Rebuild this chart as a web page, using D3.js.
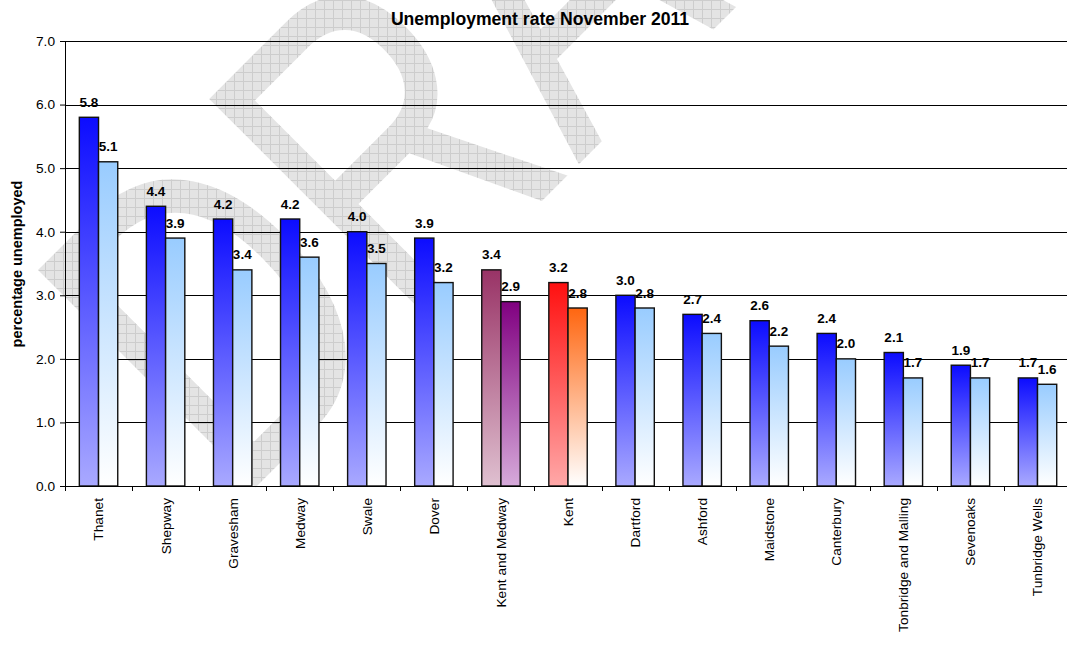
<!DOCTYPE html>
<html>
<head>
<meta charset="utf-8">
<script src="https://cdn.jsdelivr.net/npm/d3@7"></script>
<style>
  html, body { margin: 0; padding: 0; background: #fff; }
  svg { display: block; font-family: "Liberation Sans", Arial, sans-serif; }
</style>
</head>
<body>
<svg id="chart" width="1067" height="645"></svg>
<script>
// Unemployment rate by district, November 2011
const categories = ["Thanet", "Shepway", "Gravesham", "Medway", "Swale", "Dover",
  "Kent and Medway", "Kent", "Dartford", "Ashford", "Maidstone", "Canterbury",
  "Tonbridge and Malling", "Sevenoaks", "Tunbridge Wells"];
const seriesA = [5.8, 4.4, 4.2, 4.2, 4.0, 3.9, 3.4, 3.2, 3.0, 2.7, 2.6, 2.4, 2.1, 1.9, 1.7];
const seriesB = [5.1, 3.9, 3.4, 3.6, 3.5, 3.2, 2.9, 2.8, 2.8, 2.4, 2.2, 2.0, 1.7, 1.7, 1.6];
const yTicks = [0, 1, 2, 3, 4, 5, 6, 7];

const title = "Unemployment rate November 2011";
const yTitle = "percentage unemployed";

// gradient pairs [top, bottom] per palette, first and second bar
const palettes = {
  district: [["#0c0cff", "#a9a9ff"], ["#99ccff", "#ffffff"]],
  "Kent and Medway": [["#993366", "#dfc0d0"], ["#800080", "#d6aada"]],
  "Kent": [["#ff1010", "#ffa8a8"], ["#ff6610", "#ffffff"]]
};

const W = 1067, H = 645;
const plot = { left: 65, top: 41, bottom: 486, right: 1067 };
const step = 67.07;

const svg = d3.select("#chart");
const defs = svg.append("defs");

// grid-textured fill for the background stamp
const pat = defs.append("pattern")
  .attr("id", "stampGrid").attr("patternUnits", "userSpaceOnUse")
  .attr("width", 9).attr("height", 9);
pat.append("rect").attr("width", 9).attr("height", 9).attr("fill", "#e4e4e4");
pat.append("path").attr("d", "M0 0.5H9M0.5 0V9")
  .attr("stroke", "#cdcdcd").attr("stroke-width", 1).attr("fill", "none");

const clip = defs.append("clipPath").attr("id", "stampClip");
clip.append("text")
  .attr("transform", "translate(236,507) rotate(-45) scale(0.75,1)")
  .attr("font-family", "'Liberation Sans', Arial, sans-serif")
  .attr("font-size", 447)
  .text("DRAFT");

svg.append("rect")
  .attr("x", 0).attr("y", 0).attr("width", W).attr("height", H)
  .attr("fill", "url(#stampGrid)")
  .attr("clip-path", "url(#stampClip)");

// gradients
Object.entries(palettes).forEach(([key, pair], pi) => {
  pair.forEach((cols, si) => {
    const g = defs.append("linearGradient")
      .attr("id", `grad-${pi}-${si}`)
      .attr("x1", 0).attr("y1", 0).attr("x2", 0).attr("y2", 1);
    g.append("stop").attr("offset", "0%").attr("stop-color", cols[0]);
    g.append("stop").attr("offset", "100%").attr("stop-color", cols[1]);
  });
});
const paletteKeys = Object.keys(palettes);
function gradFor(cat, si) {
  const k = palettes[cat] ? cat : "district";
  return `url(#grad-${paletteKeys.indexOf(k)}-${si})`;
}

// scales
const x0 = d3.scaleBand().domain(categories)
  .range([plot.left, plot.left + step * categories.length]).padding(0);
const x1 = d3.scaleBand().domain([0, 1]).range([0, x0.bandwidth()])
  .paddingInner(0).paddingOuter(0.746);
const y = d3.scaleLinear().domain([0, 7]).range([plot.bottom, plot.top]);

// horizontal gridlines
svg.append("g").selectAll("line")
  .data(yTicks.filter(d => d > 0))
  .join("line")
  .attr("x1", plot.left).attr("x2", plot.right)
  .attr("y1", d => Math.round(y(d)) + 0.5).attr("y2", d => Math.round(y(d)) + 0.5)
  .attr("stroke", "#000").attr("stroke-width", 1);

// y axis
const yAxis = svg.append("g")
  .attr("transform", `translate(${plot.left},0)`)
  .call(d3.axisLeft(y).tickValues(yTicks).tickFormat(d3.format(".1f"))
    .tickSize(5).tickPadding(5).tickSizeOuter(0));
yAxis.select(".domain").attr("stroke", "#000");
yAxis.selectAll(".tick line").attr("stroke", "#000");
yAxis.selectAll(".tick text")
  .attr("font-size", 13.7).attr("fill", "#000")
  .attr("font-family", "'Liberation Sans', Arial, sans-serif");

// bars
const groups = svg.append("g").selectAll("g")
  .data(categories.map((c, i) => ({ c, vals: [seriesA[i], seriesB[i]] })))
  .join("g")
  .attr("transform", d => `translate(${x0(d.c)},0)`);

groups.selectAll("rect")
  .data(d => d.vals.map((v, si) => ({ c: d.c, v, si })))
  .join("rect")
  .attr("x", d => x1(d.si))
  .attr("width", x1.bandwidth())
  .attr("y", d => y(d.v))
  .attr("height", d => y(0) - y(d.v))
  .attr("fill", d => gradFor(d.c, d.si))
  .attr("stroke", "#111").attr("stroke-width", 1.4);

groups.selectAll("text")
  .data(d => d.vals.map((v, si) => ({ v, si })))
  .join("text")
  .attr("x", d => x1(d.si) + x1.bandwidth() / 2)
  .attr("y", d => y(d.v) - 10.5)
  .attr("text-anchor", "middle")
  .attr("font-size", 13.5).attr("font-weight", "bold").attr("fill", "#000")
  .text(d => d3.format(".1f")(d.v));

// x axis
const xAxis = svg.append("g")
  .attr("transform", `translate(0,${plot.bottom})`)
  .call(d3.axisBottom(x0).tickSize(0).tickPadding(0));
xAxis.select(".domain").remove();
xAxis.append("line")
  .attr("x1", plot.left).attr("x2", plot.right)
  .attr("y1", 0.5).attr("y2", 0.5)
  .attr("stroke", "#000");
xAxis.selectAll(".boundary")
  .data(categories)
  .join("line").attr("class", "boundary")
  .attr("x1", d => Math.round(x0(d)) + 0.5).attr("x2", d => Math.round(x0(d)) + 0.5)
  .attr("y1", 0).attr("y2", 5)
  .attr("stroke", "#000");
xAxis.selectAll(".tick text")
  .attr("font-size", 13.7).attr("fill", "#000")
  .attr("font-family", "'Liberation Sans', Arial, sans-serif")
  .attr("transform", "rotate(-90)")
  .attr("text-anchor", "end")
  .attr("x", -12).attr("y", 0).attr("dy", "0.36em");

// titles
svg.append("text")
  .attr("x", 540).attr("y", 25)
  .attr("text-anchor", "middle")
  .attr("font-size", 17.6).attr("font-weight", "bold").attr("fill", "#000")
  .text(title);

svg.append("text")
  .attr("transform", "translate(22,264) rotate(-90)")
  .attr("text-anchor", "middle")
  .attr("font-size", 14.5).attr("font-weight", "bold").attr("fill", "#000")
  .text(yTitle);
</script>
</body>
</html>
